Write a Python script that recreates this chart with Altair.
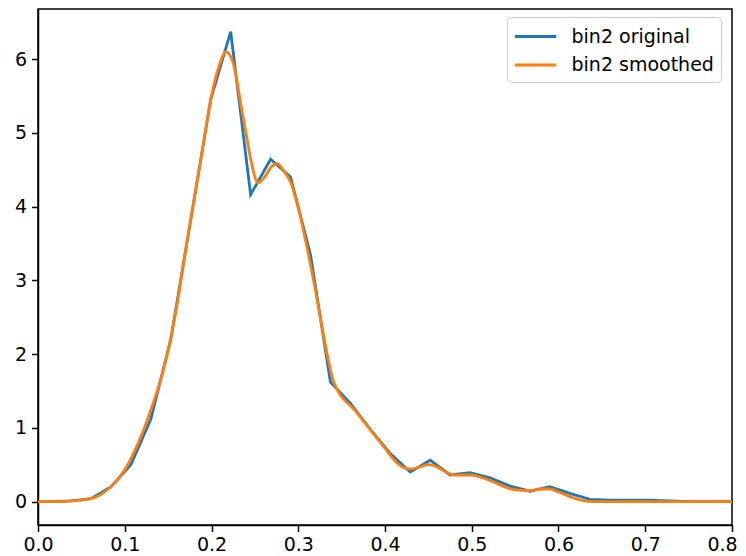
import altair as alt
import pandas as pd

# bin2 original (x, density)
orig_x = [0.0, 0.0151, 0.0381, 0.0611, 0.0841, 0.1071, 0.1301, 0.1531, 0.1761, 0.1991,
          0.2221, 0.2451, 0.2681, 0.2911, 0.3141, 0.3371, 0.3601, 0.3831, 0.4061, 0.4291,
          0.4521, 0.4751, 0.4981, 0.5211, 0.5441, 0.5671, 0.5901, 0.6131, 0.6361, 0.6591,
          0.6821, 0.7051, 0.7281, 0.7511, 0.7741, 0.8]
orig_y = [0.0, 0.0, 0.01, 0.04, 0.20, 0.50, 1.12, 2.20, 3.82, 5.45,
          6.37, 4.16, 4.64, 4.40, 3.35, 1.62, 1.33, 0.98, 0.65, 0.40,
          0.56, 0.36, 0.39, 0.32, 0.21, 0.14, 0.20, 0.11, 0.03, 0.02,
          0.02, 0.02, 0.01, 0.0, 0.0, 0.0]

# bin2 smoothed (x, density)
smooth_x = [0.0, 0.02, 0.04, 0.06, 0.07, 0.08, 0.09, 0.10, 0.11, 0.12,
            0.13, 0.14, 0.15, 0.16, 0.17, 0.18, 0.19, 0.20, 0.21, 0.2163,
            0.225, 0.23, 0.235, 0.24, 0.245, 0.25, 0.2535, 0.26, 0.27, 0.276,
            0.285, 0.29, 0.30, 0.31, 0.32, 0.33, 0.34, 0.35, 0.36, 0.37,
            0.38, 0.39, 0.40, 0.41, 0.42, 0.43, 0.44, 0.45, 0.46, 0.47,
            0.48, 0.49, 0.50, 0.51, 0.52, 0.53, 0.54, 0.55, 0.56, 0.57,
            0.58, 0.59, 0.60, 0.61, 0.62, 0.63, 0.64, 0.70, 0.80]
smooth_y = [0.0, 0.0, 0.01, 0.04, 0.08, 0.16, 0.27, 0.43, 0.65, 0.92,
            1.24, 1.60, 2.05, 2.65, 3.40, 4.10, 4.80, 5.50, 5.95, 6.10,
            5.95, 5.65, 5.30, 4.98, 4.65, 4.40, 4.32, 4.38, 4.55, 4.58,
            4.45, 4.36, 3.98, 3.45, 2.85, 2.20, 1.65, 1.42, 1.30, 1.17,
            1.02, 0.87, 0.72, 0.57, 0.47, 0.44, 0.47, 0.50, 0.47, 0.40,
            0.36, 0.36, 0.36, 0.33, 0.29, 0.24, 0.19, 0.16, 0.15, 0.15,
            0.17, 0.17, 0.13, 0.08, 0.04, 0.01, 0.0, 0.0, 0.0]

series_names = ["bin2 original", "bin2 smoothed"]
colors = ["#1f77b4", "#ff7f0e"]
x_ticks = [0.0, 0.1, 0.2, 0.3, 0.4, 0.5, 0.6, 0.7, 0.8]
y_ticks = [0, 1, 2, 3, 4, 5, 6]

FONT = "DejaVu Sans"
FS = 19

df_o = pd.DataFrame({"x": orig_x, "y": orig_y, "series": series_names[0]})
df_s = pd.DataFrame({"x": smooth_x, "y": smooth_y, "series": series_names[1]})

xscale = alt.Scale(domain=[0, 0.8], nice=False, zero=False)
yscale = alt.Scale(domain=[-0.318, 6.678], nice=False, zero=False)
color = alt.Color("series:N", scale=alt.Scale(domain=series_names, range=colors),
                  legend=alt.Legend(title=None, orient="none", legendX=469, legendY=8,
                                    symbolType="M-1.8,0H1.8", symbolSize=529, symbolStrokeWidth=2.8,
                                    symbolOffset=9,
                                    labelFontSize=FS, labelFont=FONT, labelColor="black",
                                    padding=6.5, rowPadding=5.5, labelOffset=23, labelLimit=400,
                                    strokeColor="#cccccc", fillColor="white", cornerRadius=4))

xax = alt.Axis(values=x_ticks, format=".1f", grid=False, labelFontSize=FS, labelFont=FONT,
               labelColor="black", tickColor="black", tickSize=6.5, tickWidth=1.5,
               domainColor="black", domainWidth=1.5, labelPadding=4, title=None, labelFlush=False,
               labelOffset=alt.ExprRef("datum.value >= 0.8 ? -10 : 0"))
yax = alt.Axis(values=y_ticks, format="d", grid=False, labelFontSize=FS, labelFont=FONT,
               labelColor="black", tickColor="black", tickSize=6.5, tickWidth=1.5,
               domainColor="black", domainWidth=1.5, labelPadding=5, title=None)

base_enc = dict(x=alt.X("x:Q", scale=xscale, axis=xax),
                y=alt.Y("y:Q", scale=yscale, axis=yax),
                color=color)

l1 = alt.Chart(df_o).mark_line(strokeWidth=2.8, interpolate="linear", clip=True).encode(**base_enc)
l2 = alt.Chart(df_s).mark_line(strokeWidth=2.8, interpolate="monotone", clip=True).encode(**base_enc)

chart = alt.layer(l1, l2).properties(
    width=694, height=516,
    background="white",
    padding={"left": 30, "top": 1, "right": 6, "bottom": 30},
    autosize=alt.AutoSizeParams(type="none"),
).configure_view(stroke="black", strokeWidth=1.5)

chart.save("out.html", embed_options={"renderer": "svg", "actions": False})
